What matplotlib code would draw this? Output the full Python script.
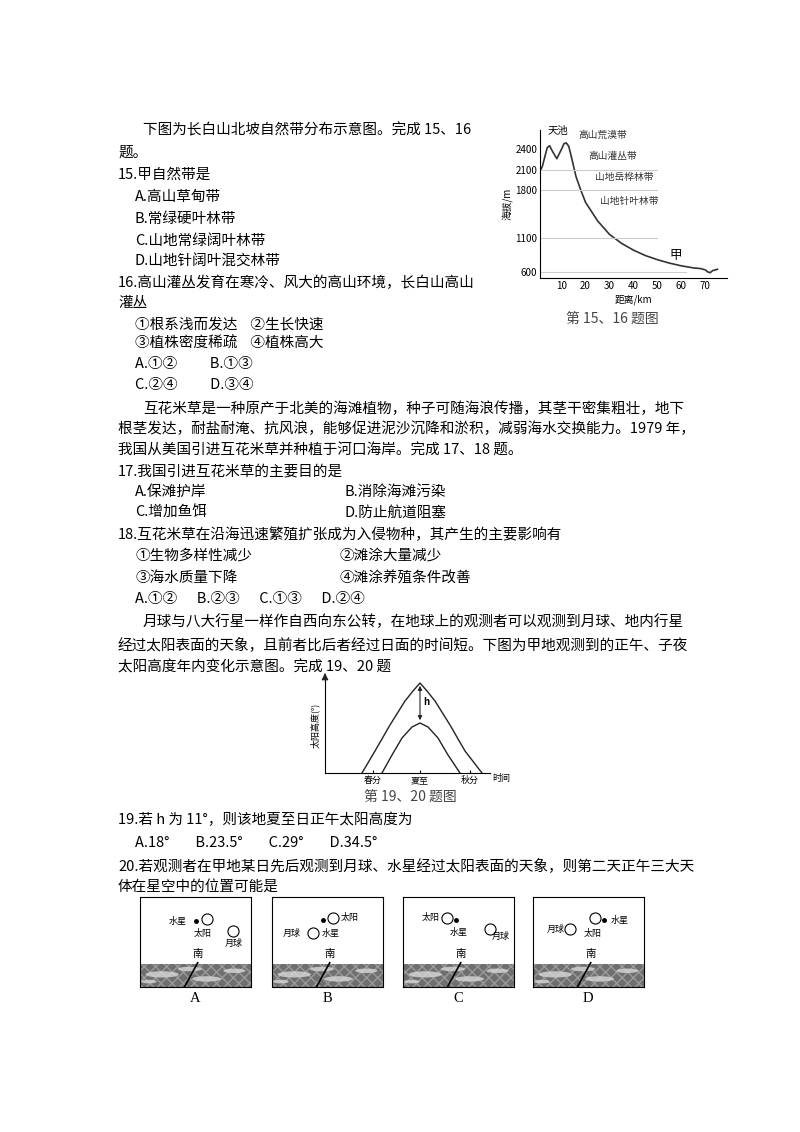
import matplotlib
matplotlib.use("Agg")
import matplotlib.pyplot as plt
from matplotlib.patches import Rectangle, Ellipse

plt.rcParams['font.family'] = ['Noto Sans CJK SC', 'DejaVu Sans']

W, H = 800, 1132
fig = plt.figure(figsize=(8, 11.32), dpi=100)

def T(x, y, s, size=10.5, **kw):
    fig.text(x / W, 1 - y / H, s, fontsize=size, va='center', ha=kw.pop('ha', 'left'), **kw)

lines = [
    (143, 130, "下图为长白山北坡自然带分布示意图。完成 15、16"),
    (118, 153, "题。"),
    (118, 175, "15.甲自然带是"),
    (135, 197, "A.高山草甸带"), (135, 219, "B.常绿硬叶林带"),
    (135, 241, "C.山地常绿阔叶林带"), (135, 262, "D.山地针阔叶混交林带"),
    (118, 283, "16.高山灌丛发育在寒冷、风大的高山环境，长白山高山"),
    (118, 303, "灌丛"),
    (135, 324, "①根系浅而发达    ②生长快速"),
    (135, 344, "③植株密度稀疏    ④植株高大"),
    (135, 364, "A.①②          B.①③"),
    (135, 385, "C.②④          D.③④"),
    (143, 409, "互花米草是一种原产于北美的海滩植物，种子可随海浪传播，其茎干密集粗壮，地下"),
    (118, 429, "根茎发达，耐盐耐淹、抗风浪，能够促进泥沙沉降和淤积，减弱海水交换能力。1979 年，"),
    (118, 451, "我国从美国引进互花米草并种植于河口海岸。完成 17、18 题。"),
    (118, 471, "17.我国引进互花米草的主要目的是"),
    (135, 492, "A.保滩护岸"), (345, 492, "B.消除海滩污染"),
    (135, 513, "C.增加鱼饵"), (345, 513, "D.防止航道阻塞"),
    (118, 535, "18.互花米草在沿海迅速繁殖扩张成为入侵物种，其产生的主要影响有"),
    (135, 556, "①生物多样性减少"), (340, 556, "②滩涂大量减少"),
    (135, 578, "③海水质量下降"), (340, 578, "④滩涂养殖条件改善"),
    (135, 599, "A.①②      B.②③      C.①③      D.②④"),
    (143, 622, "月球与八大行星一样作自西向东公转，在地球上的观测者可以观测到月球、地内行星"),
    (118, 645, "经过太阳表面的天象，且前者比后者经过日面的时间短。下图为甲地观测到的正午、子夜"),
    (118, 667, "太阳高度年内变化示意图。完成 19、20 题"),
    (118, 820, "19.若 h 为 11°，则该地夏至日正午太阳高度为"),
    (135, 843, "A.18°        B.23.5°        C.29°        D.34.5°"),
    (118, 866, "20.若观测者在甲地某日先后观测到月球、水星经过太阳表面的天象，则第二天正午三大天"),
    (118, 888, "体在星空中的位置可能是"),
]
for x, y, s in lines:
    T(x, y, s)

# ---- Chart 1: Changbai mountain profile ----
dist = [0, 2, 4, 5, 6, 8, 10, 11, 12, 13, 14, 16, 18, 20, 25, 30, 35, 40, 45, 50, 55, 60, 65, 68, 70, 71, 72, 73, 75]
elev = [2000, 2150, 2420, 2450, 2380, 2260, 2400, 2480, 2490, 2440, 2300, 2000, 1800, 1620, 1350, 1150, 1020, 920, 840, 780, 730, 690, 660, 650, 630, 600, 590, 620, 640]
yticks1 = [600, 1100, 1800, 2100, 2400]
xticks1 = [10, 20, 30, 40, 50, 60, 70]
band_lines = [(2100, 50), (1800, 50), (1100, 50), (600, 62)]
zones = [(17, 2560, "高山荒漠带"), (21, 2250, "高山灌丛带"), (24, 1950, "山地岳桦林带"), (26, 1600, "山地针叶林带")]

ax1 = fig.add_axes([540 / W, 1 - 278 / H, 187 / W, 148 / H])
ax1.plot(dist, elev, color='#333', lw=1.2)
for yv, xe in band_lines:
    ax1.plot([0, xe], [yv, yv], color='#ccc', lw=0.8)
ax1.set_xlim(1, 79)
ax1.set_ylim(512, 2680)
ax1.set_yticks(yticks1)
ax1.set_xticks(xticks1)
ax1.tick_params(labelsize=7, length=0, pad=2)
for s in ['top', 'right']:
    ax1.spines[s].set_visible(False)
for x, y, s in zones:
    ax1.text(x, y, s, fontsize=7, color='#333')
ax1.text(4, 2620, "天池", fontsize=7.5)
ax1.text(55, 790, "甲", fontsize=9)
ax1.set_ylabel("海拔/m", fontsize=7, labelpad=2)
ax1.set_xlabel("距离/km", fontsize=7, labelpad=3)
T(612, 319, "第 15、16 题图", size=10, ha='center', color='#444')

# ---- Chart 2: solar altitude ----
noon_x = [37, 50, 65, 80, 88, 95, 102, 110, 125, 140, 157]
noon_y = [0, 22, 48, 72, 82, 90, 82, 72, 48, 22, 0]
night_x = [57, 67, 77, 87, 95, 103, 113, 123, 135]
night_y = [0, 18, 35, 46, 50, 46, 35, 18, 0]
season_x = [48, 95, 145]
season_lbl = ["春分", "夏至", "秋分"]

ax2 = fig.add_axes([325 / W, 1 - 773 / H, 165 / W, 95 / H])
ax2.plot(noon_x, noon_y, color='#222', lw=1)
ax2.plot(night_x, night_y, color='#222', lw=1)
ax2.annotate("", xy=(95, 50), xytext=(95, 90), arrowprops=dict(arrowstyle='<|-|>', lw=0.8, color='#222', mutation_scale=6))
ax2.text(98, 68, "h", fontsize=7, weight='bold')
ax2.set_xlim(0, 165)
ax2.set_ylim(0, 95)
ax2.set_xticks(season_x)
ax2.set_xticklabels(season_lbl, fontsize=6.5)
ax2.tick_params(axis='x', length=2, direction='in', pad=2)
ax2.set_yticks([])
for s in ['top', 'right']:
    ax2.spines[s].set_visible(False)
ax2.text(167, -6, "时间", fontsize=6.5, va='center', clip_on=False)
ax2.set_ylabel("太阳高度(°)", fontsize=6.5, labelpad=4)
ax2.annotate("", xy=(0, 100), xytext=(0, 95), arrowprops=dict(arrowstyle='-|>', lw=0.8, color='#222'), annotation_clip=False)
T(410, 797, "第 19、20 题图", size=10, ha='center', color='#444')

# ---- Sky boxes ----
boxes = [
    ("A", 140, [(60, 76, "sun"), (50, 73, "merc"), (84, 62, "moon")],
     [(26, 73, "水星"), (48, 60, "太阳"), (76, 48, "月球")]),
    ("B", 272, [(55, 77, "sun"), (46, 74, "merc"), (37, 60, "moon")],
     [(62, 77, "太阳"), (10, 60, "月球"), (45, 59, "水星")]),
    ("C", 403, [(40, 77, "sun"), (48, 74, "merc"), (78, 64, "moon")],
     [(17, 77, "太阳"), (42, 61, "水星"), (80, 56, "月球")]),
    ("D", 533, [(56, 77, "sun"), (64, 74, "merc"), (33, 64, "moon")],
     [(70, 74, "水星"), (12, 64, "月球"), (46, 60, "太阳")]),
]
for lbl, x0, objs, texts in boxes:
    ax = fig.add_axes([x0 / W, 1 - 987 / H, 111 / W, 90 / H])
    ax.set_xlim(0, 100); ax.set_ylim(0, 100)
    ax.set_xticks([]); ax.set_yticks([])
    ax.add_patch(Rectangle((0, 0), 100, 26, facecolor='#6f6f6f', edgecolor='#9a9a9a', hatch='xxx', lw=0, zorder=1))
    for ex, ey, ew, eh in [(20, 14, 30, 7), (60, 9, 26, 6), (85, 18, 20, 5), (8, 6, 14, 4), (45, 20, 22, 5)]:
        ax.add_patch(Ellipse((ex, ey), ew, eh, facecolor='#d8d8d8', edgecolor='none', alpha=0.8, zorder=2))
    ax.plot([40, 52], [0, 27], color='k', lw=1.2, zorder=3)
    ax.text(52, 33, "南", fontsize=7.5, ha='center', zorder=3)
    for x, y, k in objs:
        if k == 'merc':
            ax.plot(x, y, 'o', color='k', ms=2.5)
        else:
            ax.plot(x, y, 'o', mfc='white', mec='k', ms=8, mew=0.8)
    for x, y, s in texts:
        ax.text(x, y, s, fontsize=6.5, va='center')
    T(x0 + 55, 998, lbl, size=10.5, ha='center', family='Liberation Serif')

fig.savefig("out.png", dpi=100, facecolor='white')
